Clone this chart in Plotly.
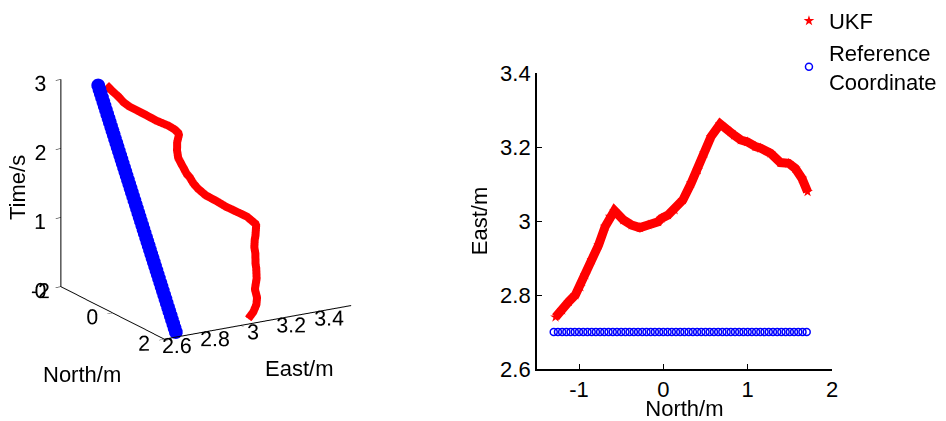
import math
import plotly.graph_objects as go

# UKF estimated track: North (m), East (m), time (s)
ukf_north = [1.71, 1.644, 1.565, 1.486, 1.388, 1.271, 1.153, 1.094, 0.996, 0.918,
             0.839, 0.80, 0.674, 0.565, 0.486, 0.408, 0.329, 0.232, 0.133, 0.055,
             -0.024, -0.062, -0.18, -0.278, -0.376, -0.474, -0.58, -0.631, -0.69, -0.768,
             -0.847, -0.926, -0.984, -1.043, -1.121, -1.20, -1.279]
ukf_east = [3.079, 3.115, 3.142, 3.156, 3.158, 3.183, 3.197, 3.201, 3.214, 3.219,
            3.232, 3.241, 3.262, 3.228, 3.183, 3.138, 3.102, 3.057, 3.030, 3.016,
            3.007, 2.998, 2.989, 2.982, 2.989, 3.003, 3.028, 3.012, 2.985, 2.935,
            2.895, 2.854, 2.822, 2.800, 2.782, 2.759, 2.740]
ukf_time = [0.00, 0.07, 0.15, 0.23, 0.33, 0.45, 0.57, 0.63, 0.74, 0.82,
            0.91, 0.95, 1.08, 1.19, 1.27, 1.35, 1.43, 1.52, 1.61, 1.68,
            1.76, 1.80, 1.91, 2.00, 2.09, 2.18, 2.27, 2.33, 2.39, 2.47,
            2.55, 2.63, 2.69, 2.75, 2.83, 2.91, 2.99]

# Reference coordinate track
ref_north = [1.70, 1.65, 1.60, 1.55, 1.50, 1.45, 1.40, 1.35, 1.30, 1.25,
             1.20, 1.15, 1.10, 1.05, 1.00, 0.95, 0.90, 0.85, 0.80, 0.75,
             0.70, 0.65, 0.60, 0.55, 0.50, 0.45, 0.40, 0.35, 0.30, 0.25,
             0.20, 0.15, 0.10, 0.05, 0.00, -0.05, -0.10, -0.15, -0.20, -0.25,
             -0.30, -0.35, -0.40, -0.45, -0.50, -0.55, -0.60, -0.65, -0.70, -0.75,
             -0.80, -0.85, -0.90, -0.95, -1.00, -1.05, -1.10, -1.15, -1.20, -1.25,
             -1.30]
ref_east = [2.70] * len(ref_north)
ref_time = [0.00, 0.05, 0.10, 0.15, 0.20, 0.25, 0.30, 0.35, 0.40, 0.45,
            0.50, 0.55, 0.60, 0.65, 0.70, 0.75, 0.80, 0.85, 0.90, 0.95,
            1.00, 1.05, 1.10, 1.15, 1.20, 1.25, 1.30, 1.35, 1.40, 1.45,
            1.50, 1.55, 1.60, 1.65, 1.70, 1.75, 1.80, 1.85, 1.90, 1.95,
            2.00, 2.05, 2.10, 2.15, 2.20, 2.25, 2.30, 2.35, 2.40, 2.45,
            2.50, 2.55, 2.60, 2.65, 2.70, 2.75, 2.80, 2.85, 2.90, 2.95,
            3.00]

north_ticks_3d = [-2, 0, 2]
east_ticks_3d = [2.6, 2.8, 3.0, 3.2, 3.4]
time_ticks_3d = [0, 1, 2, 3]
north_ticks_2d = [-1, 0, 1, 2]
east_ticks_2d = [2.6, 2.8, 3.0, 3.2, 3.4]

RED = "#ff0000"
BLUE = "#0000ff"
FONT = "Arial, Liberation Sans, sans-serif"
FS = 22
FS3D = 16


def label(v):
    return "%g" % v


fig = go.Figure()

# 3-D view: North, East, Time
fig.add_trace(go.Scatter3d(
    x=ref_north, y=ref_east, z=ref_time, mode="lines+markers",
    line=dict(color=BLUE, width=18), marker=dict(color=BLUE, size=8),
    showlegend=False, hoverinfo="skip"))
fig.add_trace(go.Scatter3d(
    x=ukf_north, y=ukf_east, z=ukf_time, mode="lines",
    line=dict(color=RED, width=16),
    showlegend=False, hoverinfo="skip"))

# 2-D view: East against North
fig.add_trace(go.Scatter(
    x=ukf_north, y=ukf_east, mode="lines", line=dict(color=RED, width=9),
    showlegend=False, hoverinfo="skip", xaxis="x", yaxis="y"))
fig.add_trace(go.Scatter(
    x=ukf_north, y=ukf_east, mode="markers", name="UKF",
    marker=dict(symbol="star", color=RED, size=8, line=dict(width=0)),
    xaxis="x", yaxis="y"))
fig.add_trace(go.Scatter(
    x=ref_north, y=ref_east, mode="markers", name="Reference<br>Coordinate",
    marker=dict(symbol="circle-open", color=BLUE, size=7, line=dict(width=1.5, color=BLUE)),
    xaxis="x", yaxis="y"))

axis3d = dict(showbackground=False, showgrid=False, zeroline=False, showline=True,
              linecolor="black", linewidth=2, ticks="inside", ticklen=6,
              tickcolor="black", showspikes=False, title=dict(text=""), tickangle=0,
              tickfont=dict(family=FONT, size=FS3D, color="black"))

phi = math.radians(-30.8)
theta = math.radians(17.6)
r = 2.0
eye = dict(x=r * math.cos(theta) * math.cos(phi),
           y=r * math.cos(theta) * math.sin(phi),
           z=r * math.sin(theta))


def title_note(text, px, py, angle=0):
    return dict(text=text, x=px / 946, y=1 - py / 421, xref="paper", yref="paper",
                xanchor="center", yanchor="middle", textangle=angle,
                showarrow=False, font=dict(family=FONT, size=FS, color="black"))


fig.update_layout(
    width=946, height=421,
    margin=dict(l=0, r=0, t=0, b=0, autoexpand=False),
    paper_bgcolor="white", plot_bgcolor="white",
    font=dict(family=FONT, size=FS, color="black"),
    scene=dict(
        domain=dict(x=[0.0, 0.4355], y=[0.144, 0.944]),
        xaxis=dict(axis3d, range=[-2, 2], tickvals=north_ticks_3d,
                   ticktext=[label(v) for v in north_ticks_3d]),
        yaxis=dict(axis3d, range=[2.6, 3.58], tickvals=east_ticks_3d,
                   ticktext=[label(v) for v in east_ticks_3d]),
        zaxis=dict(axis3d, range=[0, 3], tickvals=time_ticks_3d,
                   ticktext=[label(v) for v in time_ticks_3d]),
        aspectmode="manual", aspectratio=dict(x=1.2, y=1.29, z=1.29),
        camera=dict(eye=eye, up=dict(x=0, y=0, z=1), center=dict(x=0, y=0, z=0),
                    projection=dict(type="orthographic")),
        bgcolor="white",
    ),
    xaxis=dict(domain=[0.5675, 0.8795], range=[-1.5, 2], tickvals=north_ticks_2d,
               ticktext=[label(v) for v in north_ticks_2d],
               showline=True, linecolor="black", linewidth=1.5, mirror=False,
               ticks="inside", ticklen=5, tickcolor="black", showgrid=False,
               zeroline=False, anchor="y", automargin=False,
               title=dict(text="North/m", standoff=2, font=dict(size=FS))),
    yaxis=dict(domain=[0.1235, 0.8266], range=[2.6, 3.4], tickvals=east_ticks_2d,
               ticktext=[label(v) for v in east_ticks_2d],
               showline=True, linecolor="black", linewidth=1.5, mirror=False,
               ticks="inside", ticklen=5, tickcolor="black", showgrid=False,
               zeroline=False, anchor="x", automargin=False,
               title=dict(text="East/m", standoff=6, font=dict(size=FS))),
    legend=dict(x=0.834, y=1.0, xanchor="left", yanchor="top",
                bgcolor="rgba(0,0,0,0)", font=dict(family=FONT, size=FS),
                tracegroupgap=0),
    annotations=[
        title_note("Time/s", 18, 188, -90),
        title_note("North/m", 82, 374),
        title_note("East/m", 299, 368),
    ],
)

fig.write_html("out.html", config=dict(displayModeBar=False))
